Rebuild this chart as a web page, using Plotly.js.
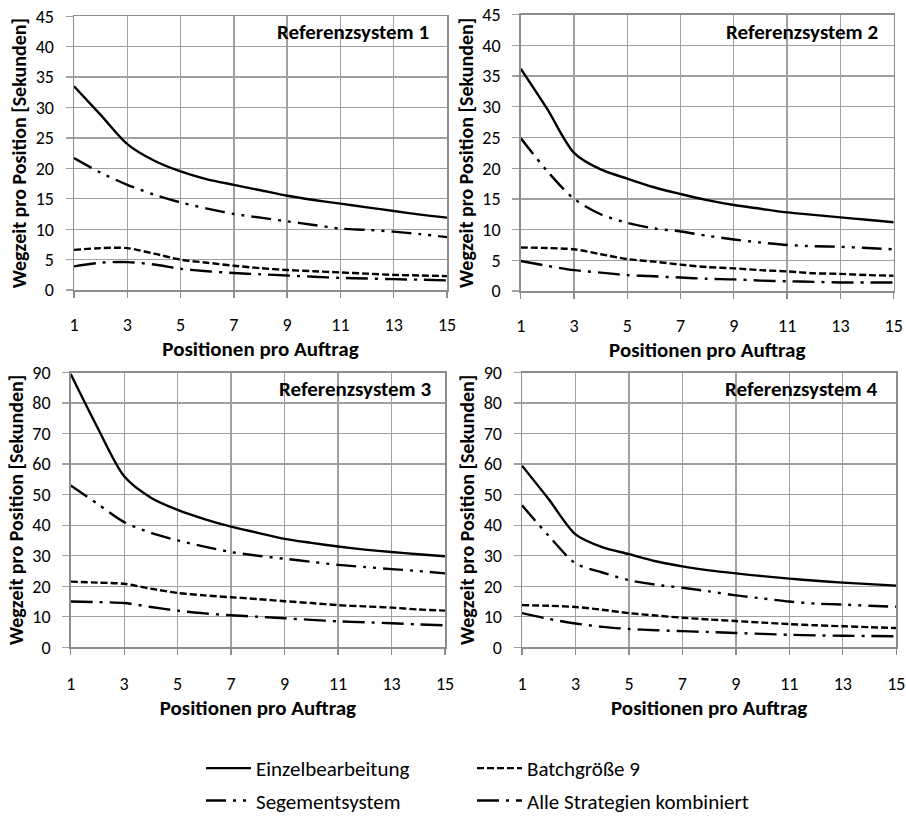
<!DOCTYPE html>
<html>
<head>
<meta charset="utf-8">
<script src="https://cdn.plot.ly/plotly-3.0.1.min.js"></script>
<style>html,body{margin:0;padding:0;background:#fff;}#chart{width:906px;height:821px;}</style>
</head>
<body>
<div id="chart"></div>
<script>
// ---- data ----
const positions = [1,2,3,4,5,6,7,8,9,10,11,12,13,14,15];
const seriesNames = ["Einzelbearbeitung", "Batchgröße 9", "Segementsystem", "Alle Strategien kombiniert"];
const panelTitles = ["Referenzsystem 1", "Referenzsystem 2", "Referenzsystem 3", "Referenzsystem 4"];
const xTickVals = [1,3,5,7,9,11,13,15];
const xTickText = ["1","3","5","7","9","11","13","15"];

// Referenzsystem 1
const r1_einzel  = [33.5, 28.8, 24.0, 21.3, 19.5, 18.2, 17.3, 16.4, 15.5, 14.8, 14.2, 13.6, 13.0, 12.4, 11.9];
const r1_batch   = [6.6, 6.9, 6.9, 6.0, 5.0, 4.5, 4.0, 3.6, 3.3, 3.1, 2.9, 2.7, 2.5, 2.4, 2.3];
const r1_segment = [21.7, 19.3, 17.3, 15.7, 14.4, 13.4, 12.5, 11.9, 11.3, 10.7, 10.1, 9.9, 9.6, 9.2, 8.7];
const r1_alle    = [3.9, 4.5, 4.6, 4.2, 3.5, 3.1, 2.8, 2.6, 2.4, 2.2, 2.0, 1.9, 1.8, 1.7, 1.6];

// Referenzsystem 2
const r2_einzel  = [36.2, 29.6, 22.5, 19.8, 18.3, 16.9, 15.8, 14.8, 14.0, 13.4, 12.8, 12.4, 12.0, 11.6, 11.2];
const r2_batch   = [7.1, 7.0, 6.8, 6.0, 5.2, 4.8, 4.3, 3.9, 3.7, 3.4, 3.2, 2.9, 2.8, 2.6, 2.5];
const r2_segment = [24.9, 19.5, 15.0, 12.5, 11.1, 10.2, 9.7, 9.0, 8.4, 7.9, 7.5, 7.3, 7.2, 7.0, 6.8];
const r2_alle    = [4.9, 4.1, 3.4, 3.0, 2.6, 2.4, 2.2, 2.0, 1.9, 1.7, 1.6, 1.5, 1.4, 1.4, 1.4];

// Referenzsystem 3
const r3_einzel  = [89.5, 72.0, 56.0, 49.0, 45.0, 42.0, 39.5, 37.5, 35.5, 34.2, 33.0, 32.0, 31.2, 30.5, 29.8];
const r3_batch   = [21.5, 21.2, 20.8, 19.2, 17.8, 17.0, 16.4, 15.8, 15.1, 14.5, 13.8, 13.4, 13.0, 12.4, 12.0];
const r3_segment = [53.0, 47.0, 41.0, 37.5, 35.0, 33.0, 31.2, 30.0, 29.0, 28.0, 27.0, 26.3, 25.6, 25.0, 24.2];
const r3_alle    = [15.0, 14.8, 14.5, 13.2, 12.0, 11.1, 10.5, 10.0, 9.5, 9.0, 8.5, 8.2, 7.9, 7.5, 7.2];

// Referenzsystem 4
const r4_einzel  = [59.5, 48.5, 37.0, 32.8, 30.5, 28.2, 26.5, 25.2, 24.2, 23.3, 22.5, 21.8, 21.2, 20.7, 20.2];
const r4_batch   = [13.8, 13.6, 13.2, 12.3, 11.2, 10.4, 9.7, 9.1, 8.6, 8.1, 7.6, 7.2, 6.9, 6.6, 6.3];
const r4_segment = [46.5, 36.5, 27.5, 24.5, 22.0, 20.5, 19.5, 18.3, 17.0, 16.0, 15.0, 14.3, 14.0, 13.6, 13.3];
const r4_alle    = [11.2, 9.3, 7.8, 6.7, 6.0, 5.6, 5.3, 5.0, 4.7, 4.4, 4.1, 3.9, 3.8, 3.7, 3.6];

const panels = [
  [r1_einzel, r1_batch, r1_segment, r1_alle],
  [r2_einzel, r2_batch, r2_segment, r2_alle],
  [r3_einzel, r3_batch, r3_segment, r3_alle],
  [r4_einzel, r4_batch, r4_segment, r4_alle]
];

// ---- styles ----
const FONT = "Carlito, Lato, 'Open Sans', sans-serif";
const dashes = ["solid", "7px,3px", "20px,7px,3px,7px,3px,7px", "22px,7px,3px,7px"];
const legendOf = ["legend", "legend2", "legend", "legend2"];
const W = 906, H = 821;

// panel boxes in pixels: [left, right, top, bottom]
const boxes = [
  [74, 447, 16.7, 297.7],
  [520.7, 893.7, 15, 298.7],
  [70.7, 445, 382.3, 664.3],
  [522, 896.3, 382.3, 664.3]
];
const yRanges = [[0,45],[0,45],[0,90],[0,90]];
const yDticks = [5,5,10,10];
const xLabelStandoff = [12, 12, 14, 14];
const titlePos = [[0.957,0.942],[0.963,0.937],[0.968,0.94],[0.954,0.94]];

const traces = [];
panels.forEach((vals, p) => {
  const ax = p === 0 ? "" : String(p + 1);
  vals.forEach((v, s) => {
    traces.push({
      x: positions, y: v, type: "scatter", mode: "lines",
      name: seriesNames[s],
      line: {color: "#000", width: 2.4, dash: dashes[s], shape: "spline", smoothing: 0.8},
      xaxis: "x" + ax, yaxis: "y" + ax,
      showlegend: p === 0,
      legend: legendOf[s],
      legendgroup: "g" + s,
      hoverinfo: "skip"
    });
  });
});

const legendCommon = {
  xanchor: "left", y: 1 - 768 / H, yanchor: "top",
  orientation: "v", tracegroupgap: 2, bgcolor: "rgba(0,0,0,0)",
  itemwidth: 45,
  font: {family: FONT, size: 21, color: "#000"}
};

const layout = {
  width: W, height: H,
  margin: {l: 0, r: 0, t: 0, b: 0},
  paper_bgcolor: "#fff", plot_bgcolor: "#fff",
  font: {family: FONT, color: "#000", size: 16},
  annotations: [],
  legend: Object.assign({x: 201 / W}, legendCommon),
  legend2: Object.assign({x: 472 / W}, legendCommon)
};

boxes.forEach((b, p) => {
  const ax = p === 0 ? "" : String(p + 1);
  layout["xaxis" + ax] = {
    domain: [b[0] / W, b[1] / W],
    anchor: "y" + ax,
    range: [1, 15], tickmode: "array", tickvals: xTickVals, ticktext: xTickText,
    ticks: "outside", ticklen: 6, tickcolor: "#8c8c8c", tickwidth: 1.3,
    ticklabelstandoff: xLabelStandoff[p],
    showgrid: true, gridcolor: "#a0a0a0", gridwidth: 1.3,
    showline: true, linecolor: "#8c8c8c", linewidth: 1.5, mirror: true,
    zeroline: false,
    tickfont: {family: FONT, size: 18, color: "#000"},
    title: {text: "<b>Positionen pro Auftrag</b>", standoff: 0, font: {family: FONT, size: 21, color: "#000"}},
    automargin: false
  };
  layout["yaxis" + ax] = {
    domain: [1 - b[3] / H, 1 - b[2] / H],
    anchor: "x" + ax,
    range: yRanges[p], dtick: yDticks[p], tick0: 0,
    ticks: "outside", ticklen: 7, tickcolor: "#a0a0a0", tickwidth: 1.3,
    ticklabelstandoff: 8,
    showgrid: true, gridcolor: "#a0a0a0", gridwidth: 1.3,
    showline: true, linecolor: "#8c8c8c", linewidth: 1.5, mirror: true,
    zeroline: false,
    tickfont: {family: FONT, size: 18, color: "#000"},
    title: {text: "<b>Wegzeit pro Position [Sekunden]</b>", standoff: 3, font: {family: FONT, size: 20, color: "#000"}},
    automargin: false
  };
  layout.annotations.push({
    text: "<b>" + panelTitles[p] + "</b>",
    xref: "x" + ax + " domain", yref: "y" + ax + " domain",
    x: titlePos[p][0], y: titlePos[p][1], xanchor: "right", yanchor: "middle",
    showarrow: false, font: {family: FONT, size: 21, color: "#000"}
  });
});

Plotly.newPlot("chart", traces, layout, {displayModeBar: false, staticPlot: true});
</script>
</body>
</html>
